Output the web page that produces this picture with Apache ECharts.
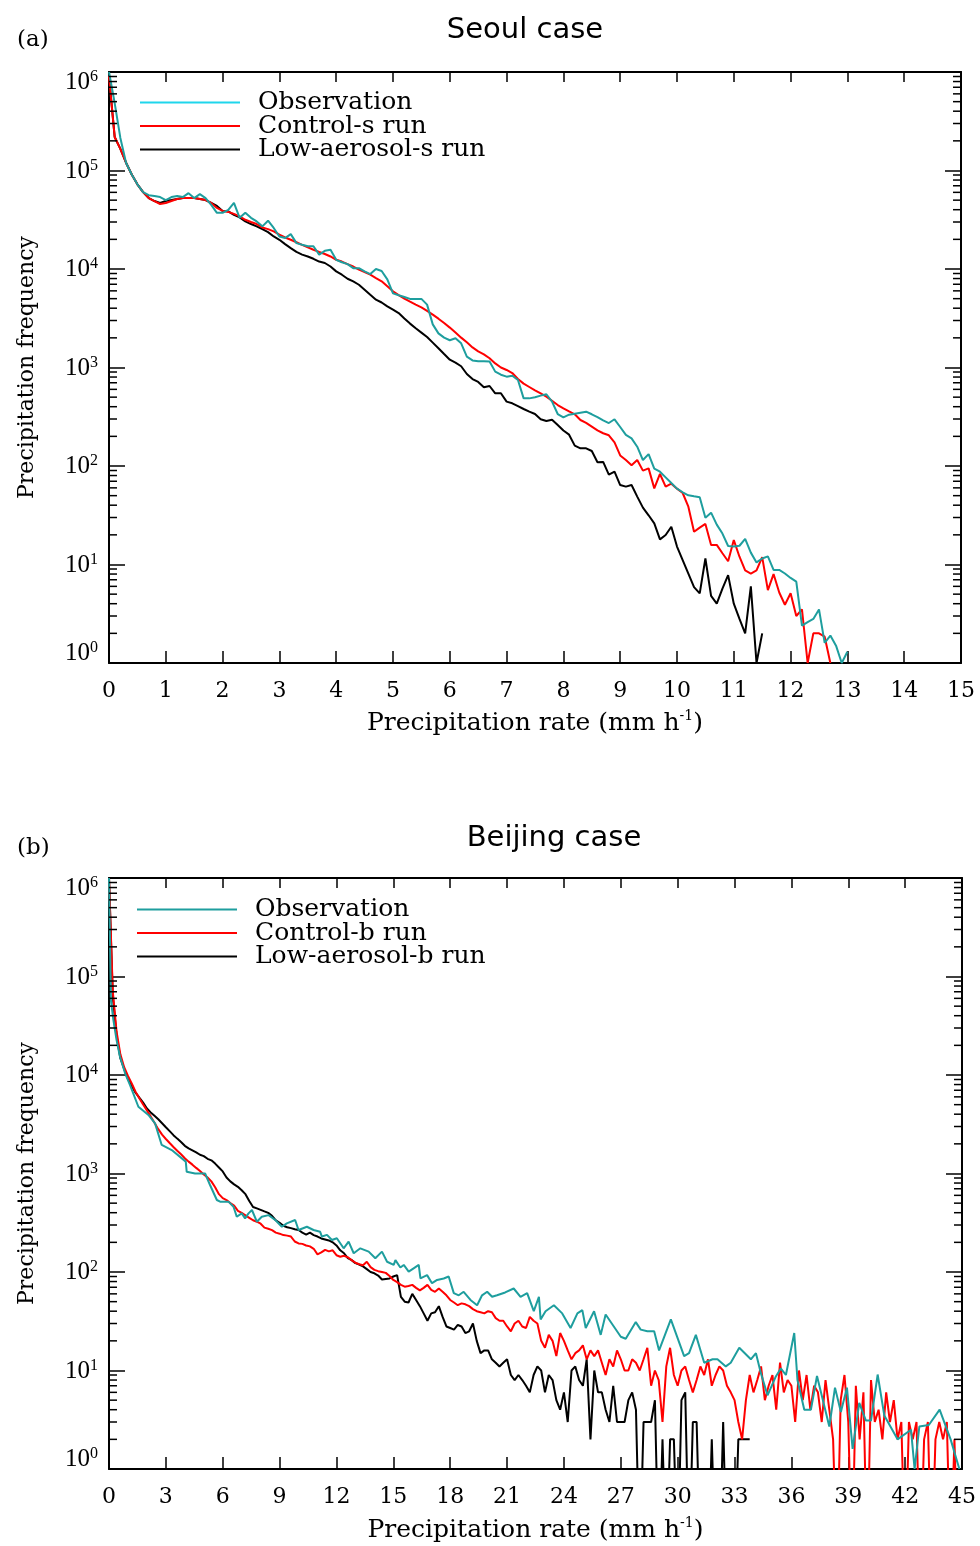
<!DOCTYPE html>
<html>
<head>
<meta charset="utf-8">
<script src="https://cdn.jsdelivr.net/npm/echarts@6.0.0/dist/echarts.min.js"></script>
<style>
html,body{margin:0;padding:0;background:#ffffff;}
#chart{width:980px;height:1546px;}
</style>
</head>
<body>
<div id="chart"></div>
<script>
// ------------------------------------------------------------------
// DATA (precipitation frequency per rate bin)
// ------------------------------------------------------------------
const Z = 0.1; // empty bin (zero count): falls below the 10^0 floor of the axis

// Panel (a) Seoul case: bins of 0.1 mm/h starting at 0
const binA = 0.1;
const obsA = [1000000,484000,214000,120000,91200,72400,60300,56200,55000,53700,
  50100,53700,55000,53700,58900,52500,57500,52500,44700,37200,
  37200,39800,46800,33100,37200,33100,30400,27100,30900,26100,
  21400,20600,22600,18300,17600,17000,17000,14000,15300,15700,
  12400,11700,11200,10200,10200,9460,8890,10000,9550,7850,
  5660,5410,5200,4970,4970,4970,4350,2740,2220,2010,
  1890,1980,1760,1290,1180,1160,1160,1150,908,845,
  807,826,746,486,486,498,518,535,450,337,
  312,332,340,348,356,335,314,290,273,298,
  249,207,191,157,115,132,94,87.5,76.7,67.1,
  58.9,54.1,50.4,49.2,48.1,29.9,33.6,25.4,20.6,15.4,
  15.2,15.5,18.2,13.2,10.5,11.5,12.1,8.8,8.8,8.1,
  7.3,6.7,2.4,2.6,2.8,3.5,1.6,1.9,1.5,1,
  1.3];
const ctrlA = [900000,219000,166000,120000,91200,72400,60300,52500,49000,45700,
  46800,49000,51300,52500,52500,52500,51300,50100,46800,41700,
  38900,38000,36300,34200,31600,30000,28600,26400,25400,24100,
  22300,20900,19800,18700,17600,16600,15700,14900,14200,13400,
  12400,11900,11200,10600,9840,9310,8750,8090,7500,6670,
  5930,5440,5000,4660,4350,4080,3750,3440,3130,2830,
  2540,2260,2010,1800,1600,1460,1360,1240,1100,1000,
  944,879,764,686,634,586,547,506,460,416,
  385,359,335,293,274,251,230,215,205,174,
  128,115,102,115,89.7,94.6,59.3,83,61.7,66.2,
  58.9,53.2,38.6,21.5,23.7,25.8,15.8,15.8,13.0,10.8,
  17.7,12.0,8.7,8.1,8.7,11.9,5.5,8.0,5.2,3.9,
  5.1,3.0,3.5,1,2,2,1.85,1];
const lowA = [900000,219000,166000,120000,91200,72400,60300,52500,49000,46800,
  49000,50100,51300,52500,52500,52500,51300,50100,46800,43700,
  38900,38500,35500,33400,30400,28600,27100,25400,23700,21400,
  19800,17900,16300,14900,14000,13400,12700,11900,11500,10600,
  9460,8750,7960,7480,6920,6170,5480,4880,4570,4170,
  3860,3570,3150,2790,2500,2260,2040,1790,1570,1370,
  1200,1120,1030,859,764,713,630,649,547,547,
  450,433,406,379,356,337,298,286,295,261,
  229,208,161,151,151,142,109,110,81.7,87.5,
  64.1,61.7,64.1,48.9,37.8,31.6,26.2,18.0,19.9,24.2,
  15.2,11.1,8.1,5.9,5.1,11.5,4.8,4.0,5.7,7.8,
  4.0,2.8,2.0,6.0,1,2];

// Panel (b) Beijing case
const obsBRate = [0,0.05,0.1,0.23,0.4,0.58,0.85,1.11,1.55,2.08,2.43,2.78,3.31,4.05,4.1,4.54,5.07,5.33,5.69,5.86,
  6.3,6.57,6.74,7,7.18,7.36,7.54,7.8,8.06,8.42,8.77,9.12,9.38,9.82,10,10.44,10.79,11.14,11.23,11.5,
  11.76,12.02,12.38,12.64,12.91,13.26,13.7,14.05,14.4,14.67,15.02,15.11,15.37,15.55,15.81,16.07,16.34,16.43,16.78,17.04,
  17.31,17.66,17.92,18.19,18.45,18.71,19.07,19.42,19.68,19.95,20.21,20.47,20.9,21.35,21.71,22.06,22.41,22.68,22.77,23.03,
  23.47,23.91,24.35,24.71,24.97,25.15,25.59,25.94,26.2,27,27.26,27.79,28.05,28.4,28.76,29.02,29.64,30.34,30.6,30.96,
  31.4,31.84,32.1,32.54,32.8,33.25,33.86,34.13,34.39,34.74,35.18,35.44,35.71,36.15,36.32,36.68,37.03,37.35,38,38.3,
  38.61,38.93,39.23,39.58,39.93,40.2,40.55,40.9,41.6,42.31,42.5,42.75,43.25,43.82,44.4,44.86];
const obsB = [1000000,251000,57500,36300,22600,15300,10400,7910,4760,3930,3230,1950,1730,1320,1040,1000,1000,764,538,518,
  518,460,364,394,350,394,426,324,364,378,337,288,312,337,267,288,267,256,229,238,
  211,220,174,203,155,174,161,138,161,127,118,132,111,118,101,109,118,86,93,77,
  83,86,90,61,58,63,52,46,58,63,56,58,62,68,56,61,40,56,33,40,
  46,38,27,38,41,27,40,23,37,22,21,31,26,25,25,16,33,14,15,23,
  12,13,13,11,12,17,13,15,9.4,5.6,8.7,10.5,9.0,24,8.0,4.0,4.0,8.8,2.7,6.7,
  3.8,6.7,1.6,4.7,3.1,3.1,9.1,3.5,2.0,2.5,1,2.7,2.8,4.0,2.0,1];

// model runs: bins of 0.2 mm/h starting at 0
const binB = 0.2;
const ctrlB = [1000000,70800,27500,16200,12000,9770,8220,6760,5820,5010,
  4370,3800,3270,2820,2480,2240,2040,1860,1700,1570,
  1430,1320,1230,1140,1060,977,912,832,724,617,
  562,537,501,473,417,398,376,355,335,324,
  309,282,275,266,251,245,237,234,229,204,
  195,193,186,182,172,151,158,168,162,166,
  148,143,146,141,132,124,120,117,127,112,
  105,102,100,98,91,83,79,74,71,72,
  74,69,65,69,74,66,63,68,63,58,
  52,49,46,48,47,45,42,40,39,38,
  40,39,34,32,32,28,25,30,32,28,
  27,35,32,30,20,17,23,20,14,24,
  20,16,13,15,16,18,13,16,14,16,
  12,9,13,11,16,13,10,10,13,12,
  10,13,17,7,10,8,3,11,17,9,
  7,10,11,8,6,8,11,9,13,7,
  9,11,10,7,6,5,3,2,5,9,
  6,8,11,5,7,9,4,12,6,8,
  7,3,10,5,9,4,7,6,3,8,
  4,2,Z,5,9,3,Z,7,2,6,
  Z,8,3,4,2,6,3,5,2,3,
  Z,3,2,3,Z,2,3,Z,2,3,
  2,3,Z,2,Z];
const lowB = [1000000,63100,25100,14800,11500,9120,7760,6610,5890,5250,
  4570,4170,3850,3550,3240,2950,2690,2450,2260,2090,
  1910,1800,1720,1640,1550,1500,1410,1360,1260,1150,
  1050,912,832,776,733,676,617,525,457,442,
  427,412,398,372,335,316,295,285,279,272,
  267,251,240,251,237,229,219,214,209,200,
  186,166,155,138,132,123,119,114,107,100,
  97,92,84,85,86,90,93,56,50,49,
  60,52,45,38,32,38,39,45,35,28,
  27,26,29,28,24,25,30,20,15,16,
  16,13,12,11,12,13,9,8,9,8,
  7,6,9,11,10,6,9,8,5,4,
  6,3,10,11,8,7,13,2,10,6,
  6,4,3,7,3,3,3,5,6,4,
  Z,3,3,3,5,Z,2,Z,2,2,
  Z,5,6,Z,3,3,Z,Z,Z,2,
  Z,Z,3,Z,Z,Z,2,2,2,2];

// axis ranges / tick steps
const xMaxA = 15, xStepA = 1;
const xMaxB = 45, xStepB = 3;
const yMin = 1, yMax = 1000000;
const minorTickMult = [2,3,4,5,6,7,8,9];
const minorTickDecades = [1,10,100,1000,10000,100000];

// series / legend labels
const namesA = ['Observation','Control-s run','Low-aerosol-s run'];
const namesB = ['Observation','Control-b run','Low-aerosol-b run'];

// ------------------------------------------------------------------
const SERIF = '"Liberation Serif","Times New Roman",Times,serif';
const WSERIF = '"DejaVu Serif","Liberation Serif",serif';
const SANS = '"DejaVu Sans","Liberation Sans",Arial,sans-serif';
const TEAL = '#1e9e9e';
const CYAN = '#1fd6ec';
const RED = '#ff0000';
const BLACK = '#000000';

const minorTicks = [];
minorTickDecades.forEach(d => minorTickMult.forEach(m => minorTicks.push(m * d)));

function binned(arr, step) {
  return arr.map((v, i) => [Math.round(i * step * 100) / 100, v]);
}
function paired(xs, ys) {
  return ys.map((v, i) => [xs[i], v]);
}

function yLabelFmt(v) {
  const e = Math.round(Math.log10(v));
  const core = '{b|10}{s|' + e + '}';
  if (e === 6) return '{gap| }\n' + core;
  if (e === 0) return core + '\n{gap| }';
  return core;
}
const yRich = {
  b: {fontFamily: SERIF, fontSize: 25, color: '#000', lineHeight: 26, verticalAlign: 'bottom'},
  s: {fontFamily: SERIF, fontSize: 16, color: '#000', lineHeight: 16, verticalAlign: 'top'},
  gap: {fontSize: 2, lineHeight: 20}
};

const axisLine = {show: true, onZero: false, lineStyle: {color: '#000', width: 2}};

function xAxes(g, max, step, nameGap) {
  return [{
    type: 'value', gridIndex: g, position: 'bottom', min: 0, max: max, interval: step,
    axisLine: axisLine,
    axisTick: {show: true, inside: true, length: 12, lineStyle: {color: '#000', width: 1.5}},
    axisLabel: {show: true, margin: 17, color: '#000', fontFamily: WSERIF, fontSize: 22},
    splitLine: {show: false},
    name: 'Precipitation rate (mm h{sup|-1})', nameLocation: 'middle', nameGap: nameGap,
    nameTextStyle: {color: '#000', fontFamily: WSERIF, fontSize: 25, lineHeight: 28,
      rich: {sup: {fontFamily: WSERIF, fontSize: 14, lineHeight: 14, verticalAlign: 'top', color: '#000'}}}
  }, {
    type: 'value', gridIndex: g, position: 'top', min: 0, max: max, interval: step,
    axisLine: axisLine,
    axisTick: {show: true, inside: true, length: 10, lineStyle: {color: '#000', width: 1.5}},
    axisLabel: {show: false}, splitLine: {show: false}
  }];
}

function yAxes(g) {
  const base = {
    type: 'log', logBase: 10, gridIndex: g, min: yMin, max: yMax,
    axisLine: axisLine,
    axisTick: {show: true, inside: true, length: 16, lineStyle: {color: '#000', width: 1.5}},
    splitLine: {show: false}, minorTick: {show: false}
  };
  return [
    Object.assign({}, base, {
      position: 'left',
      axisLabel: {show: true, margin: 11, formatter: yLabelFmt, rich: yRich},
      name: 'Precipitation frequency', nameLocation: 'middle', nameGap: 71, nameRotate: 90,
      nameTextStyle: {color: '#000', fontFamily: WSERIF, fontSize: 22}
    }),
    Object.assign({}, base, {position: 'right', axisLabel: {show: false}})
  ];
}

function minorTickSeries(g, xmax) {
  return {
    type: 'custom', xAxisIndex: 2 * g, yAxisIndex: 2 * g, silent: true, z: 6, clip: false,
    animation: false,
    data: minorTicks.map(v => [0, v]),
    encode: {x: 0, y: 1},
    renderItem: function (params, api) {
      const pL = api.coord([0, api.value(1)]);
      const pR = api.coord([xmax, api.value(1)]);
      const st = {stroke: '#000', lineWidth: 1.5};
      return {type: 'group', children: [
        {type: 'line', shape: {x1: pL[0], y1: pL[1], x2: pL[0] + 8, y2: pL[1]}, style: st},
        {type: 'line', shape: {x1: pR[0], y1: pR[1], x2: pR[0] - 8, y2: pR[1]}, style: st}
      ]};
    }
  };
}

function lineSeries(name, color, data, g) {
  return {
    type: 'line', name: name, xAxisIndex: 2 * g, yAxisIndex: 2 * g, data: data,
    showSymbol: false, symbol: 'none', clip: true, z: 3,
    lineStyle: {color: color, width: 2}, itemStyle: {color: color}
  };
}

const legendText = {fontFamily: WSERIF, fontSize: 25, color: '#000', lineHeight: 22, padding: [0, 0, 0, 13]};

const option = {
  animation: false,
  backgroundColor: '#ffffff',
  title: [
    {text: 'Seoul case', left: 520, top: 11, textAlign: 'center',
      textStyle: {fontFamily: SANS, fontSize: 29, fontWeight: 'normal', color: '#000'}},
    {text: 'Beijing case', left: 549, top: 819, textAlign: 'center',
      textStyle: {fontFamily: SANS, fontSize: 29, fontWeight: 'normal', color: '#000'}},
    {text: '(a)', left: 17, top: 29, padding: 0, textStyle: {fontFamily: WSERIF, fontSize: 23, fontWeight: 'normal', color: '#000'}},
    {text: '(b)', left: 17, top: 837, padding: 0, textStyle: {fontFamily: WSERIF, fontSize: 23, fontWeight: 'normal', color: '#000'}}
  ],
  legend: [
    {orient: 'vertical', left: 140, top: 90, padding: 0, itemWidth: 100, itemHeight: 2, icon: 'rect', itemGap: -1.5,
      selectedMode: false, textStyle: legendText,
      data: [{name: namesA[0], itemStyle: {color: CYAN}}, {name: namesA[1], itemStyle: {color: RED}}, {name: namesA[2], itemStyle: {color: BLACK}}]},
    {orient: 'vertical', left: 137, top: 897, padding: 0, itemWidth: 100, itemHeight: 2, icon: 'rect', itemGap: -1.5,
      selectedMode: false, textStyle: legendText,
      data: [{name: namesB[0], itemStyle: {color: TEAL}}, {name: namesB[1], itemStyle: {color: RED}}, {name: namesB[2], itemStyle: {color: BLACK}}]}
  ],
  grid: [
    {left: 109, top: 72, width: 852, height: 591},
    {left: 109, top: 878, width: 853, height: 591}
  ],
  xAxis: xAxes(0, xMaxA, xStepA, 46).concat(xAxes(1, xMaxB, xStepB, 47)),
  yAxis: yAxes(0).concat(yAxes(1)),
  series: [
    lineSeries(namesA[2], BLACK, binned(lowA, binA), 0),
    lineSeries(namesA[1], RED, binned(ctrlA, binA), 0),
    lineSeries(namesA[0], TEAL, binned(obsA, binA), 0),
    lineSeries(namesB[2], BLACK, binned(lowB, binB), 1),
    lineSeries(namesB[1], RED, binned(ctrlB, binB), 1),
    lineSeries(namesB[0], TEAL, paired(obsBRate, obsB), 1),
    minorTickSeries(0, xMaxA),
    minorTickSeries(1, xMaxB)
  ]
};

const chart = echarts.init(document.getElementById('chart'), null, {renderer: 'canvas', width: 980, height: 1546});
chart.setOption(option);
</script>
</body>
</html>
